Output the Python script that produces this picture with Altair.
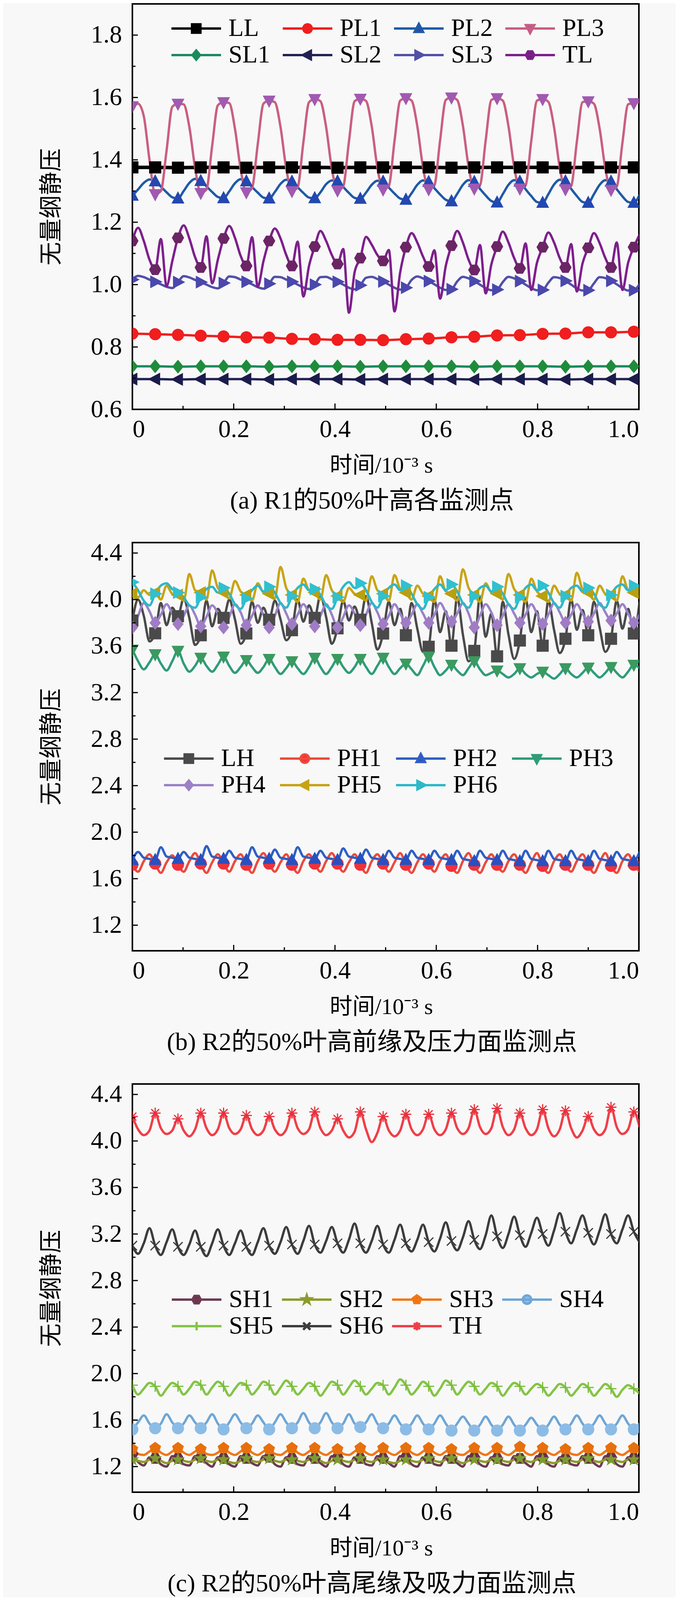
import altair as alt
import pandas as pd

SERIF = "Liberation Serif"
CJK = "'Liberation Serif', 'Noto Sans CJK SC'"
BG = "#f8f8f8"
W = 1297
FINE, COARSE = 0.01125, 0.045

X_MAJOR = [0, 0.2, 0.4, 0.6, 0.8, 1.0]
X_MINOR = [0.1, 0.3, 0.5, 0.7, 0.9]
A_Y_MAJOR = [0.6, 0.8, 1.0, 1.2, 1.4, 1.6, 1.8]
A_Y_MINOR = [0.7, 0.9, 1.1, 1.3, 1.5, 1.7]
BC_Y_MAJOR = [1.2, 1.6, 2.0, 2.4, 2.8, 3.2, 3.6, 4.0, 4.4]
BC_Y_MINOR = [1.4, 1.8, 2.2, 2.6, 3.0, 3.4, 3.8, 4.2]

# ---- (a) R1, 50% span ----
A_NAMES = ["LL", "PL1", "PL2", "PL3", "SL1", "SL2", "SL3", "TL"]
A_LINE = ["#000000", "#f01e1e", "#1f5aa6", "#c95f7f", "#1b8a60", "#222255", "#5250a8", "#7d1f8c"]
A_MARK = ["#000000", "#f01e1e", "#2448b0", "#a05ab0", "#1e8c3c", "#1c1c4c", "#4a48ac", "#6b2565"]

LL = [1.376, 1.376, 1.375, 1.376, 1.376, 1.375, 1.376, 1.376, 1.376, 1.375, 1.376, 1.376,
      1.376, 1.376, 1.375, 1.376, 1.376, 1.376, 1.376, 1.375, 1.376, 1.376, 1.376, 1.376]
PL1 = [0.843, 0.841, 0.839, 0.836, 0.834, 0.831, 0.830, 0.826, 0.825, 0.823, 0.823, 0.822,
       0.825, 0.827, 0.831, 0.833, 0.837, 0.838, 0.842, 0.843, 0.847, 0.847, 0.849, 0.850]
SL1 = [0.738, 0.738, 0.737, 0.738, 0.738, 0.738, 0.737, 0.738, 0.738, 0.738, 0.737, 0.738,
       0.738, 0.738, 0.738, 0.737, 0.738, 0.738, 0.738, 0.737, 0.738, 0.738, 0.738, 0.738]
SL2 = [0.697, 0.697, 0.696, 0.697, 0.697, 0.697, 0.696, 0.697, 0.697, 0.697, 0.696, 0.697,
       0.697, 0.697, 0.697, 0.696, 0.697, 0.697, 0.697, 0.696, 0.697, 0.697, 0.697, 0.697]
PL2 = [1.285, 1.305, 1.326, 1.337, 1.331, 1.314, 1.296, 1.280,
       1.276, 1.300, 1.326, 1.339, 1.332, 1.315, 1.297, 1.281,
       1.277, 1.299, 1.325, 1.338, 1.331, 1.313, 1.295, 1.279,
       1.276, 1.297, 1.323, 1.336, 1.330, 1.312, 1.294, 1.279,
       1.277, 1.296, 1.322, 1.334, 1.331, 1.313, 1.294, 1.278,
       1.275, 1.295, 1.320, 1.333, 1.330, 1.311, 1.292, 1.276,
       1.272, 1.293, 1.320, 1.334, 1.329, 1.309, 1.289, 1.272,
       1.267, 1.291, 1.320, 1.335, 1.329, 1.307, 1.286, 1.268,
       1.263, 1.290, 1.320, 1.335, 1.330, 1.306, 1.284, 1.265,
       1.262, 1.290, 1.321, 1.336, 1.331, 1.307, 1.284, 1.265,
       1.262, 1.290, 1.320, 1.335, 1.330, 1.306, 1.283, 1.265,
       1.262, 1.288]
PL3 = [1.572, 1.580, 1.540, 1.400, 1.290, 1.300, 1.430, 1.570,
       1.580, 1.578, 1.505, 1.375, 1.294, 1.305, 1.445, 1.575,
       1.585, 1.582, 1.500, 1.370, 1.296, 1.310, 1.450, 1.580,
       1.590, 1.585, 1.505, 1.372, 1.300, 1.312, 1.455, 1.585,
       1.595, 1.588, 1.505, 1.372, 1.302, 1.315, 1.458, 1.588,
       1.596, 1.589, 1.508, 1.375, 1.305, 1.316, 1.460, 1.590,
       1.598, 1.590, 1.508, 1.376, 1.306, 1.318, 1.462, 1.592,
       1.600, 1.592, 1.510, 1.378, 1.308, 1.318, 1.462, 1.592,
       1.598, 1.590, 1.508, 1.377, 1.308, 1.318, 1.460, 1.590,
       1.595, 1.586, 1.505, 1.375, 1.306, 1.316, 1.458, 1.585,
       1.588, 1.580, 1.500, 1.372, 1.304, 1.314, 1.455, 1.578,
       1.582, 1.585]
SL3 = [1.016, 1.028, 1.024, 1.016, 1.009, 1.001, 0.993, 0.989,
       1.008, 1.027, 1.023, 1.015, 1.008, 1.000, 0.992, 0.988,
       1.005, 1.026, 1.024, 1.016, 1.009, 1.001, 0.992, 0.987,
       1.003, 1.025, 1.024, 1.016, 1.009, 1.000, 0.991, 0.986,
       1.000, 1.024, 1.025, 1.017, 1.009, 1.000, 0.990, 0.985,
       0.998, 1.022, 1.025, 1.018, 1.010, 1.000, 0.990, 0.984,
       0.990, 1.015, 1.026, 1.020, 1.011, 1.001, 0.990, 0.983,
       0.985, 1.010, 1.025, 1.020, 1.011, 1.000, 0.989, 0.982,
       0.984, 1.008, 1.025, 1.020, 1.011, 1.000, 0.989, 0.982,
       0.983, 1.006, 1.024, 1.021, 1.012, 1.000, 0.988, 0.981,
       0.982, 1.004, 1.024, 1.021, 1.012, 1.001, 0.989, 0.981,
       0.982, 1.002]
TL = [1.140, 1.182, 1.140, 1.080, 1.048, 1.146, 0.995, 1.075,
      1.150, 1.190, 1.148, 1.088, 1.055, 1.155, 1.004, 1.080,
      1.148, 1.188, 1.150, 1.092, 1.060, 1.152, 0.993, 1.075,
      1.140, 1.180, 1.148, 1.095, 1.060, 1.138, 0.962, 1.060,
      1.122, 1.172, 1.140, 1.095, 1.066, 1.114, 0.910, 1.040,
      1.085, 1.153, 1.128, 1.095, 1.076, 1.111, 0.914, 1.040,
      1.120, 1.165, 1.135, 1.090, 1.058, 1.110, 0.955, 1.060,
      1.125, 1.172, 1.135, 1.080, 1.047, 1.127, 0.972, 1.065,
      1.122, 1.170, 1.135, 1.085, 1.052, 1.132, 0.983, 1.070,
      1.120, 1.167, 1.135, 1.085, 1.055, 1.130, 0.978, 1.068,
      1.118, 1.165, 1.133, 1.085, 1.055, 1.135, 0.983, 1.070,
      1.120, 1.160]

# ---- (b) R2, leading edge and pressure side ----
B_NAMES = ["LH", "PH1", "PH2", "PH3", "PH4", "PH5", "PH6"]
B_LINE = ["#4a4a4a", "#ec4b3c", "#2f5fc4", "#2f9c7a", "#9a82c6", "#c8a415", "#2cb8c8"]
B_MARK = ["#4a4a4a", "#f0323a", "#2850c0", "#3a9a60", "#a07cc4", "#b8a010", "#30c0d0"]

LH = [3.82, 4.00, 3.86, 3.64, 3.71, 3.97, 3.78, 3.93,
      3.857, 4.01, 3.84, 3.61, 3.693, 3.99, 3.77, 3.92,
      3.843, 4.00, 3.83, 3.62, 3.708, 3.98, 3.80, 3.93,
      3.827, 3.99, 3.83, 3.65, 3.737, 4.00, 3.81, 3.95,
      3.843, 4.04, 3.85, 3.62, 3.753, 3.99, 3.82, 3.94,
      3.827, 4.03, 3.80, 3.57, 3.708, 3.98, 3.78, 3.92,
      3.693, 3.97, 3.75, 3.55, 3.594, 4.00, 3.72, 3.90,
      3.603, 4.02, 3.70, 3.47, 3.559, 4.03, 3.68, 3.88,
      3.512, 3.98, 3.70, 3.49, 3.648, 4.01, 3.72, 3.90,
      3.603, 3.99, 3.74, 3.54, 3.663, 4.00, 3.74, 3.91,
      3.693, 3.98, 3.76, 3.55, 3.663, 3.99, 3.75, 3.92,
      3.708, 3.98]
PH1 = [1.72, 1.66, 1.75, 1.81, 1.73, 1.65, 1.74, 1.80,
       1.72, 1.66, 1.75, 1.82, 1.73, 1.65, 1.74, 1.81,
       1.73, 1.66, 1.75, 1.81, 1.72, 1.65, 1.75, 1.82,
       1.73, 1.66, 1.74, 1.81, 1.72, 1.65, 1.75, 1.81,
       1.73, 1.66, 1.75, 1.82, 1.73, 1.66, 1.74, 1.81,
       1.72, 1.65, 1.75, 1.81, 1.73, 1.66, 1.74, 1.82,
       1.72, 1.65, 1.74, 1.81, 1.73, 1.66, 1.75, 1.81,
       1.71, 1.65, 1.75, 1.82, 1.72, 1.65, 1.74, 1.81,
       1.72, 1.66, 1.75, 1.81, 1.72, 1.65, 1.74, 1.82,
       1.71, 1.65, 1.75, 1.81, 1.72, 1.66, 1.75, 1.81,
       1.72, 1.65, 1.74, 1.82, 1.71, 1.65, 1.75, 1.81,
       1.72, 1.66]
PH2 = [1.76, 1.83, 1.78, 1.77, 1.76, 1.87, 1.79, 1.78,
       1.77, 1.83, 1.78, 1.77, 1.76, 1.88, 1.79, 1.78,
       1.77, 1.84, 1.78, 1.77, 1.76, 1.87, 1.79, 1.78,
       1.77, 1.85, 1.78, 1.77, 1.76, 1.87, 1.79, 1.78,
       1.77, 1.84, 1.78, 1.77, 1.76, 1.86, 1.79, 1.78,
       1.77, 1.85, 1.78, 1.77, 1.76, 1.84, 1.78, 1.77,
       1.76, 1.84, 1.78, 1.77, 1.76, 1.84, 1.78, 1.77,
       1.76, 1.84, 1.77, 1.76, 1.75, 1.84, 1.78, 1.77,
       1.76, 1.84, 1.77, 1.76, 1.75, 1.84, 1.77, 1.76,
       1.75, 1.84, 1.77, 1.76, 1.75, 1.84, 1.77, 1.76,
       1.75, 1.84, 1.77, 1.76, 1.75, 1.83, 1.77, 1.76,
       1.75, 1.83]
PH3 = [3.57, 3.47, 3.40, 3.46, 3.53, 3.45, 3.39, 3.47,
       3.56, 3.45, 3.38, 3.43, 3.50, 3.43, 3.38, 3.44,
       3.51, 3.43, 3.37, 3.42, 3.48, 3.42, 3.37, 3.42,
       3.49, 3.42, 3.36, 3.41, 3.47, 3.41, 3.36, 3.42,
       3.50, 3.42, 3.36, 3.42, 3.49, 3.42, 3.37, 3.42,
       3.49, 3.42, 3.36, 3.43, 3.50, 3.42, 3.36, 3.41,
       3.45, 3.40, 3.35, 3.43, 3.51, 3.42, 3.35, 3.39,
       3.44, 3.39, 3.35, 3.41, 3.47, 3.40, 3.35, 3.37,
       3.39, 3.36, 3.33, 3.36, 3.41, 3.36, 3.33, 3.36,
       3.38, 3.35, 3.32, 3.36, 3.41, 3.36, 3.33, 3.37,
       3.415, 3.37, 3.33, 3.37, 3.42, 3.37, 3.33, 3.38,
       3.44, 3.41]
PH4 = [3.76, 3.86, 3.97, 3.90, 3.80, 3.87, 3.96, 3.88,
       3.79, 3.86, 3.95, 3.87, 3.77, 3.85, 3.95, 3.88,
       3.76, 3.85, 3.96, 3.89, 3.78, 3.86, 3.95, 3.87,
       3.76, 3.86, 3.97, 3.88, 3.79, 3.87, 3.96, 3.88,
       3.77, 3.86, 3.96, 3.87, 3.76, 3.85, 3.95, 3.88,
       3.78, 3.87, 3.97, 3.89, 3.79, 3.86, 3.96, 3.88,
       3.80, 3.87, 3.96, 3.88, 3.80, 3.87, 3.97, 3.89,
       3.81, 3.88, 3.97, 3.88, 3.76, 3.86, 3.96, 3.89,
       3.78, 3.86, 3.96, 3.88, 3.80, 3.87, 3.96, 3.88,
       3.79, 3.87, 3.97, 3.89, 3.80, 3.87, 3.96, 3.88,
       3.81, 3.88, 3.97, 3.89, 3.82, 3.88, 3.96, 3.88,
       3.80, 3.87]
PH5 = [4.05, 4.02, 4.08, 4.04, 4.06, 4.00, 4.12, 4.05,
       4.04, 3.99, 4.22, 4.08, 4.06, 4.00, 4.25, 4.10,
       4.06, 4.01, 4.16, 4.07, 4.04, 3.99, 4.14, 4.06,
       4.05, 4.01, 4.28, 4.10, 4.04, 3.98, 4.18, 4.08,
       4.06, 4.00, 4.21, 4.08, 4.03, 3.98, 4.10, 4.05,
       4.04, 3.99, 4.20, 4.08, 4.05, 3.99, 4.21, 4.09,
       4.06, 4.00, 4.12, 4.05, 4.03, 3.98, 4.20, 4.07,
       4.05, 3.99, 4.26, 4.10, 4.04, 3.98, 4.14, 4.06,
       4.05, 4.00, 4.22, 4.09, 4.04, 3.98, 4.18, 4.07,
       4.03, 3.98, 4.12, 4.05, 4.04, 3.99, 4.23, 4.09,
       4.06, 4.00, 4.12, 4.05, 4.04, 3.99, 4.20, 4.08,
       4.06, 4.02]
PH6 = [4.15, 4.08, 3.99, 3.95, 4.05, 4.12, 4.14, 4.09,
       4.06, 4.02, 3.95, 3.93, 4.02, 4.09, 4.11, 4.06,
       4.10, 4.05, 3.96, 3.92, 4.01, 4.08, 4.12, 4.07,
       4.11, 4.06, 3.97, 3.93, 4.03, 4.10, 4.13, 4.08,
       4.09, 4.04, 3.95, 3.92, 4.02, 4.11, 4.15, 4.10,
       4.14, 4.08, 3.98, 3.93, 4.03, 4.10, 4.13, 4.08,
       4.12, 4.05, 3.96, 3.92, 4.02, 4.09, 4.13, 4.08,
       4.13, 4.07, 3.97, 3.93, 4.03, 4.10, 4.12, 4.07,
       4.11, 4.05, 3.96, 3.92, 4.02, 4.10, 4.13, 4.08,
       4.12, 4.06, 3.97, 3.93, 4.03, 4.10, 4.12, 4.07,
       4.10, 4.05, 3.96, 3.93, 4.04, 4.11, 4.13, 4.08,
       4.12, 4.10]

# ---- (c) R2, trailing edge and suction side ----
C_NAMES = ["SH1", "SH2", "SH3", "SH4", "SH5", "SH6", "TH"]
C_LINE = ["#6e3a52", "#8c9c2a", "#f07818", "#6ea6d6", "#84c445", "#3c3c3c", "#f03e48"]
C_MARK = ["#6a3048", "#7c9c30", "#e8700c", "#8cbce6", "#78bc38", "#3c3c3c", "#e8303c"]

SH1 = [1.31, 1.24, 1.21, 1.28, 1.27, 1.22, 1.20, 1.29,
       1.27, 1.22, 1.21, 1.29, 1.28, 1.23, 1.20, 1.28,
       1.27, 1.22, 1.20, 1.29, 1.27, 1.23, 1.21, 1.29,
       1.28, 1.22, 1.20, 1.28, 1.27, 1.22, 1.21, 1.29,
       1.27, 1.23, 1.20, 1.29, 1.28, 1.22, 1.20, 1.28,
       1.27, 1.22, 1.21, 1.29, 1.27, 1.23, 1.20, 1.29,
       1.28, 1.22, 1.20, 1.28, 1.27, 1.22, 1.21, 1.29,
       1.27, 1.23, 1.20, 1.29, 1.28, 1.22, 1.20, 1.28,
       1.27, 1.22, 1.21, 1.29, 1.27, 1.23, 1.20, 1.29,
       1.28, 1.22, 1.20, 1.28, 1.27, 1.22, 1.21, 1.29,
       1.27, 1.23, 1.20, 1.29, 1.28, 1.22, 1.20, 1.28,
       1.27, 1.23]
SH2 = [1.26, 1.25, 1.24, 1.26, 1.27, 1.25, 1.23, 1.25,
       1.26, 1.25, 1.24, 1.26, 1.27, 1.25, 1.24, 1.26,
       1.26, 1.24, 1.23, 1.25, 1.27, 1.25, 1.24, 1.26,
       1.27, 1.25, 1.24, 1.26, 1.26, 1.25, 1.24, 1.26,
       1.27, 1.25, 1.23, 1.25, 1.26, 1.25, 1.24, 1.26,
       1.27, 1.25, 1.24, 1.26, 1.26, 1.24, 1.23, 1.25,
       1.26, 1.25, 1.24, 1.26, 1.27, 1.25, 1.24, 1.26,
       1.27, 1.25, 1.23, 1.25, 1.26, 1.25, 1.24, 1.26,
       1.26, 1.25, 1.24, 1.26, 1.27, 1.25, 1.24, 1.26,
       1.26, 1.24, 1.23, 1.25, 1.26, 1.25, 1.24, 1.26,
       1.27, 1.25, 1.24, 1.26, 1.26, 1.25, 1.24, 1.26,
       1.26, 1.25]
SH3 = [1.35, 1.31, 1.30, 1.33, 1.36, 1.32, 1.30, 1.33,
       1.36, 1.32, 1.30, 1.33, 1.35, 1.31, 1.30, 1.32,
       1.36, 1.32, 1.30, 1.33, 1.36, 1.32, 1.30, 1.33,
       1.35, 1.31, 1.30, 1.33, 1.36, 1.32, 1.30, 1.33,
       1.36, 1.32, 1.30, 1.33, 1.35, 1.31, 1.30, 1.33,
       1.36, 1.32, 1.30, 1.33, 1.36, 1.32, 1.30, 1.33,
       1.36, 1.32, 1.30, 1.33, 1.36, 1.32, 1.30, 1.33,
       1.35, 1.31, 1.30, 1.33, 1.36, 1.32, 1.30, 1.33,
       1.36, 1.32, 1.30, 1.33, 1.37, 1.32, 1.30, 1.33,
       1.36, 1.32, 1.30, 1.33, 1.35, 1.31, 1.30, 1.33,
       1.36, 1.32, 1.30, 1.33, 1.36, 1.32, 1.30, 1.33,
       1.36, 1.32]
SH4 = [1.52, 1.58, 1.64, 1.57, 1.53, 1.57, 1.65, 1.58,
       1.53, 1.57, 1.64, 1.58, 1.53, 1.58, 1.65, 1.57,
       1.52, 1.58, 1.65, 1.58, 1.53, 1.57, 1.64, 1.58,
       1.52, 1.58, 1.65, 1.58, 1.53, 1.58, 1.66, 1.58,
       1.53, 1.58, 1.66, 1.58, 1.53, 1.57, 1.65, 1.57,
       1.54, 1.58, 1.65, 1.57, 1.53, 1.57, 1.64, 1.57,
       1.52, 1.57, 1.64, 1.57, 1.52, 1.57, 1.64, 1.57,
       1.51, 1.57, 1.63, 1.57, 1.51, 1.56, 1.63, 1.56,
       1.51, 1.56, 1.63, 1.56, 1.51, 1.56, 1.62, 1.56,
       1.51, 1.56, 1.63, 1.56, 1.52, 1.57, 1.64, 1.57,
       1.52, 1.57, 1.64, 1.57, 1.52, 1.57, 1.64, 1.57,
       1.52, 1.57]
SH5 = [1.90, 1.82, 1.87, 1.92, 1.89, 1.81, 1.87, 1.92,
       1.89, 1.82, 1.87, 1.93, 1.90, 1.82, 1.88, 1.93,
       1.89, 1.81, 1.87, 1.92, 1.90, 1.82, 1.87, 1.93,
       1.90, 1.82, 1.88, 1.94, 1.89, 1.82, 1.87, 1.92,
       1.89, 1.81, 1.87, 1.93, 1.90, 1.82, 1.88, 1.94,
       1.89, 1.82, 1.87, 1.92, 1.90, 1.82, 1.88, 1.95,
       1.90, 1.82, 1.87, 1.93, 1.89, 1.81, 1.87, 1.94,
       1.90, 1.82, 1.88, 1.93, 1.89, 1.82, 1.87, 1.92,
       1.89, 1.81, 1.87, 1.92, 1.89, 1.82, 1.87, 1.91,
       1.88, 1.81, 1.86, 1.91, 1.88, 1.81, 1.86, 1.91,
       1.88, 1.81, 1.86, 1.91, 1.87, 1.80, 1.86, 1.90,
       1.87, 1.83]
SH6 = [3.10, 3.03, 3.12, 3.25, 3.10, 3.02, 3.13, 3.24,
       3.09, 3.02, 3.11, 3.23, 3.09, 3.01, 3.12, 3.24,
       3.10, 3.02, 3.12, 3.23, 3.09, 3.02, 3.13, 3.25,
       3.10, 3.03, 3.13, 3.26, 3.11, 3.03, 3.14, 3.27,
       3.11, 3.04, 3.14, 3.26, 3.12, 3.04, 3.15, 3.29,
       3.12, 3.04, 3.14, 3.27, 3.11, 3.04, 3.15, 3.28,
       3.12, 3.05, 3.15, 3.28, 3.13, 3.05, 3.16, 3.30,
       3.14, 3.06, 3.17, 3.31, 3.15, 3.07, 3.19, 3.36,
       3.18, 3.08, 3.20, 3.35, 3.19, 3.09, 3.21, 3.34,
       3.20, 3.10, 3.23, 3.38, 3.22, 3.12, 3.24, 3.36,
       3.21, 3.11, 3.23, 3.37, 3.20, 3.12, 3.24, 3.36,
       3.22, 3.13]
TH = [4.21, 4.10, 4.05, 4.09, 4.24, 4.11, 4.06, 4.09,
      4.19, 4.09, 4.04, 4.10, 4.24, 4.11, 4.05, 4.10,
      4.24, 4.11, 4.06, 4.10, 4.22, 4.10, 4.05, 4.09,
      4.21, 4.10, 4.05, 4.10, 4.24, 4.11, 4.06, 4.10,
      4.25, 4.11, 4.05, 4.09, 4.19, 4.09, 4.03, 4.08,
      4.25, 4.10, 3.99, 4.07, 4.21, 4.09, 4.04, 4.09,
      4.23, 4.10, 4.05, 4.10, 4.23, 4.10, 4.05, 4.10,
      4.24, 4.11, 4.06, 4.11, 4.27, 4.12, 4.06, 4.11,
      4.28, 4.12, 4.05, 4.10, 4.24, 4.11, 4.05, 4.10,
      4.27, 4.11, 4.04, 4.10, 4.26, 4.11, 4.03, 4.09,
      4.21, 4.10, 4.05, 4.10, 4.29, 4.12, 4.06, 4.10,
      4.25, 4.12]


# marker glyphs as unit SVG paths, scaled by s
def poly(pts):
    return lambda s: "M" + "L".join(f"{x * s:.3f},{y * s:.3f}" for x, y in pts) + "Z"


def segs(lines):
    return lambda s: "".join(
        f"M{a * s:.3f},{b * s:.3f}L{c * s:.3f},{d * s:.3f}" for (a, b), (c, d) in lines
    )


def circle(s):
    return f"M{-s:.3f},0A{s:.3f},{s:.3f} 0 1,0 {s:.3f},0A{s:.3f},{s:.3f} 0 1,0 {-s:.3f},0Z"


SQUARE = poly([(-1, -1), (1, -1), (1, 1), (-1, 1)])
TRI_UP = poly([(0, -1.1), (1, 0.8), (-1, 0.8)])
TRI_DOWN = poly([(0, 1.1), (1, -0.8), (-1, -0.8)])
TRI_LEFT = poly([(-1.1, 0), (0.8, -1), (0.8, 1)])
TRI_RIGHT = poly([(1.1, 0), (-0.8, -1), (-0.8, 1)])
DIAMOND = poly([(0, -1.1), (0.9, 0), (0, 1.1), (-0.9, 0)])
HEXAGON = poly([(-1, 0), (-0.5, -0.87), (0.5, -0.87), (1, 0), (0.5, 0.87), (-0.5, 0.87)])
PENTAGON = poly([(0, -1), (0.95, -0.31), (0.59, 0.81), (-0.59, 0.81), (-0.95, -0.31)])
STAR = poly([(0, -1), (0.22, -0.31), (0.95, -0.31), (0.36, 0.12), (0.59, 0.81),
             (0, 0.38), (-0.59, 0.81), (-0.36, 0.12), (-0.95, -0.31), (-0.22, -0.31)])
PLUS = segs([((-1, 0), (1, 0)), ((0, -1), (0, 1))])
XMARK = segs([((-0.85, -0.85), (0.85, 0.85)), ((-0.85, 0.85), (0.85, -0.85))])
ASTER = segs([((-1, 0), (1, 0)), ((0, -1), (0, 1)),
              ((-0.72, -0.72), (0.72, 0.72)), ((-0.72, 0.72), (0.72, -0.72))])

A_SHAPES = [SQUARE, circle, TRI_UP, TRI_DOWN, DIAMOND, TRI_LEFT, TRI_RIGHT, HEXAGON]
B_SHAPES = [SQUARE, circle, TRI_UP, TRI_DOWN, DIAMOND, TRI_LEFT, TRI_RIGHT]
C_SHAPES = [HEXAGON, STAR, PENTAGON, circle, PLUS, XMARK, ASTER]


def legend_symbol(shape):
    # line segment with the marker in the middle, like the Origin legend
    return "M-1,0L1,0" + shape(0.17)


def frame(names, series):
    rows = []
    for name, vals in zip(names, series):
        coarse = len(vals) < 40
        step = COARSE if coarse else FINE
        every = 1 if coarse else 4
        for k, v in enumerate(vals):
            t = round(k * step, 5)
            rows.append({"t": t, "v": v, "series": name, "leg": name,
                         "marker": k % every == 0 and t <= 1.0})
    return pd.DataFrame(rows)


def panel(names, series, lcolors, mcolors, shapes, thick, y_domain, height,
          y_major, y_minor, caption, leg_x, leg_y, col_pad):
    df = frame(names, series)
    x = alt.X("t:Q", scale=alt.Scale(domain=[0, 1], nice=False, zero=False),
              axis=alt.Axis(values=X_MAJOR, labelPadding=19,
                            labelExpr="datum.value == 0 ? '0' : format(datum.value, '.1f')",
                            title="时间/10⁻³ s", titleX=637, titleY=144,
                            titleBaseline="middle"))
    y = alt.Y("v:Q", scale=alt.Scale(domain=y_domain, nice=False, zero=False),
              axis=alt.Axis(values=y_major, format=".1f", labelPadding=27,
                            title="无量纲静压", titleAngle=270, titleX=-207,
                            titleY=height / 2, titleBaseline="middle", titleFontSize=60))
    base = alt.Chart(df)

    if thick:
        width = alt.condition(alt.FieldOneOfPredicate(field="series", oneOf=thick),
                              alt.value(9), alt.value(6))
    else:
        width = alt.value(6)
    lines = base.mark_line(interpolate="monotone", clip=True).encode(
        x=x, y=y,
        color=alt.Color("series:N", scale=alt.Scale(domain=names, range=lcolors), legend=None),
        strokeWidth=width,
    )
    pts = base.transform_filter("datum.marker").mark_point(
        filled=True, clip=True, size=784, strokeWidth=3, opacity=1
    ).encode(
        x=x, y=y,
        fill=alt.Fill("series:N", scale=alt.Scale(domain=names, range=mcolors), legend=None),
        stroke=alt.Stroke("series:N", scale=alt.Scale(domain=names, range=mcolors), legend=None),
        shape=alt.Shape("series:N", scale=alt.Scale(domain=names, range=[s(1) for s in shapes]),
                        legend=None),
    )

    leg = alt.Legend(orient="none", legendX=leg_x, legendY=leg_y, direction="horizontal",
                     columns=4, gridAlign="all", columnPadding=col_pad, rowPadding=4,
                     clipHeight=64,
                     symbolSize=127 * 127, symbolStrokeWidth=6, symbolOpacity=1,
                     labelFont=SERIF, labelFontSize=64, labelColor="black", labelOffset=16,
                     labelLimit=400, title=None, padding=0)
    keys = base.transform_filter("false").mark_point(
        filled=True, size=127 * 127, strokeWidth=6, opacity=1
    ).encode(
        x=x, y=y,
        fill=alt.Fill("leg:N", scale=alt.Scale(domain=names, range=mcolors), legend=leg),
        stroke=alt.Stroke("leg:N", scale=alt.Scale(domain=names, range=lcolors), legend=leg),
        shape=alt.Shape("leg:N", scale=alt.Scale(domain=names,
                                                 range=[legend_symbol(s) for s in shapes]),
                        legend=leg),
    )

    # inward ticks (Origin style)
    def yticks(vals, length):
        return alt.Chart(pd.DataFrame({"v": vals})).mark_rule(color="black", strokeWidth=3).encode(
            y=y, x=alt.value(0), x2=alt.value(length))

    def xticks(vals, length):
        return alt.Chart(pd.DataFrame({"t": vals})).mark_rule(color="black", strokeWidth=3).encode(
            x=x, y=alt.value(height), y2=alt.value(height - length))

    return alt.layer(
        lines, pts,
        yticks(y_major, 14), yticks(y_minor, 8), xticks(X_MAJOR, 15), xticks(X_MINOR, 9),
        keys,
    ).resolve_scale(
        fill="independent", stroke="independent", shape="independent"
    ).properties(
        width=W, height=height,
        title=alt.TitleParams(caption, orient="bottom", anchor="middle", frame="group",
                              font=CJK, fontSize=64, fontWeight="normal", color="black",
                              offset=30, dx=-35),
    )


chart_a = panel(A_NAMES, [LL, PL1, PL2, PL3, SL1, SL2, SL3, TL], A_LINE, A_MARK, A_SHAPES,
                ["LL"], [0.6, 1.9], 1038, A_Y_MAJOR, A_Y_MINOR,
                "(a) R1的50%叶高各监测点", 97, 31, 29)
chart_b = panel(B_NAMES, [LH, PH1, PH2, PH3, PH4, PH5, PH6], B_LINE, B_MARK, B_SHAPES,
                [], [0.98, 4.49], 1045, BC_Y_MAJOR, BC_Y_MINOR,
                "(b) R2的50%叶高前缘及压力面监测点", 78, 521, 34)
chart_c = panel(C_NAMES, [SH1, SH2, SH3, SH4, SH5, SH6, TH], C_LINE, C_MARK, C_SHAPES,
                [], [0.98, 4.49], 1045, BC_Y_MAJOR, BC_Y_MINOR,
                "(c) R2的50%叶高尾缘及吸力面监测点", 98, 520, 19)

chart = alt.vconcat(chart_a, chart_b, chart_c, spacing=64).resolve_scale(
    color="independent", fill="independent", stroke="independent", shape="independent"
).properties(
    background=BG,
    padding={"left": 92, "top": 0, "right": 90, "bottom": 0},
).configure_view(
    stroke="black", strokeWidth=4
).configure_axis(
    labelFont=SERIF, labelFontSize=64, labelColor="black",
    titleFont=CJK, titleFontSize=58, titleFontWeight="normal", titleColor="black",
    ticks=False, tickSize=0, domain=False, grid=False,
)

chart.save("out.html", embed_options={"renderer": "svg", "actions": False})
